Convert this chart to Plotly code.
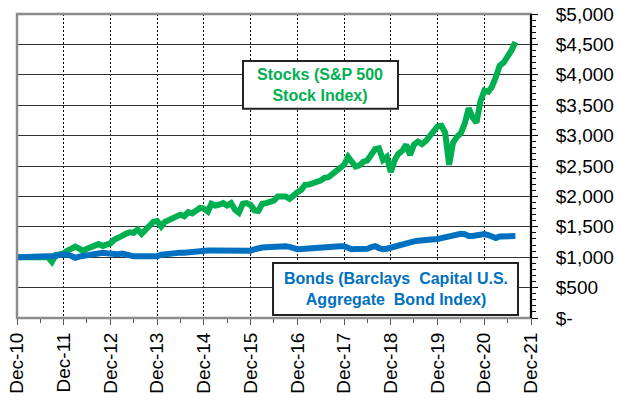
import pandas as pd
import plotly.graph_objects as go

# Monthly values, Dec-2010 .. Aug-2021 (growth of $1,000)
months = pd.date_range("2010-12-31", periods=129, freq="ME")

stocks = [
    1000, 1000, 1000, 1000, 1000, 1000, 1000, 1000, 1000, 926, 1040, 1045,
    1064, 1110, 1150, 1175, 1140, 1100, 1140, 1160, 1195, 1215, 1185, 1195,
    1229, 1290, 1310, 1350, 1385, 1410, 1400, 1455, 1385, 1440, 1520, 1580,
    1595, 1505, 1580, 1610, 1620, 1660, 1700, 1675, 1740, 1720, 1760, 1810,
    1800, 1750, 1880, 1850, 1865, 1890, 1850, 1890, 1780, 1730, 1880, 1890,
    1860, 1770, 1760, 1880, 1890, 1920, 1930, 2000, 2000, 2000, 1960, 2030,
    2070, 2110, 2190, 2195, 2215, 2250, 2260, 2305, 2315, 2365, 2420, 2490,
    2520, 2650, 2560, 2490, 2510, 2570, 2590, 2690, 2780, 2790, 2600, 2650,
    2400, 2600, 2700, 2750, 2850, 2680, 2850, 2900, 2860, 2910, 2980, 3060,
    3150, 3160, 3050, 2520, 2880, 2980, 3040, 3200, 3450, 3300, 3210, 3560,
    3740, 3720, 3800, 3960, 4150, 4200, 4290, 4400, 4540,
]

bonds = [
    1000, 1000, 1000, 1000, 1000, 1000, 1000, 1000, 1000, 1010, 1020, 1040,
    1048, 1040, 1020, 990, 1010, 1025, 1030, 1040, 1048, 1060, 1074, 1065,
    1055, 1045, 1050, 1060, 1055, 1030, 1015, 1015, 1015, 1015, 1015, 1015,
    1015, 1040, 1050, 1050, 1060, 1065, 1075, 1075, 1085, 1090, 1100, 1110,
    1110, 1110, 1110, 1110, 1110, 1110, 1110, 1110, 1110, 1110, 1110, 1110,
    1105, 1130, 1155, 1160, 1165, 1170, 1185, 1185, 1185, 1180, 1170, 1140,
    1130, 1135, 1140, 1150, 1165, 1172, 1172, 1172, 1175, 1178, 1180, 1180,
    1180, 1150, 1130, 1135, 1130, 1135, 1140, 1165, 1180, 1150, 1130, 1140,
    1160, 1180, 1190, 1210, 1225, 1240, 1260, 1270, 1275, 1272, 1275, 1285,
    1300, 1315, 1330, 1335, 1345, 1360, 1385, 1380, 1350, 1350, 1360, 1385,
    1380, 1365, 1345, 1315, 1340, 1348, 1350, 1350, 1350,
]

x_tick_dates = [f"{y}-12-31" for y in range(2010, 2022)]
x_tick_labels = [f"Dec-{y % 100:02d}" for y in range(2010, 2022)]
x_minor_dates = [f"{y}-06-30" for y in range(2011, 2022)]

y_tick_vals = list(range(0, 5001, 500))
y_tick_labels = ["$-"] + [f"${v:,}" for v in y_tick_vals[1:]]

stock_label = "Stocks (S&P 500<br>Stock Index)"
bond_label = "Bonds (Barclays&nbsp; Capital U.S.<br>Aggregate&nbsp; Bond Index)"

GREEN = "#00B050"
BLUE = "#0070C0"
FONT = "Liberation Sans, Arial, sans-serif"

fig = go.Figure()
fig.add_trace(go.Scatter(x=months, y=stocks, mode="lines",
                         line=dict(color=GREEN, width=6), name="Stocks"))
fig.add_trace(go.Scatter(x=months, y=bonds, mode="lines",
                         line=dict(color=BLUE, width=6), name="Bonds"))

fig.update_layout(
    width=618, height=400,
    margin=dict(l=17, r=87, t=14, b=82, autoexpand=False),
    paper_bgcolor="white", plot_bgcolor="white",
    showlegend=False,
    font=dict(family=FONT, size=19, color="black"),
)

fig.update_xaxes(
    type="date",
    automargin=False,
    range=["2010-12-31", "2021-12-31"],
    tickmode="array", tickvals=x_tick_dates, ticktext=x_tick_labels,
    tickangle=-90,
    ticks="outside", ticklen=6, tickcolor="#555555", tickwidth=1,
    showgrid=True, gridcolor="black", gridwidth=1, griddash="2px,2px",
    showline=False, zeroline=False,
    minor=dict(tickvals=x_minor_dates, ticks="outside", ticklen=4,
               tickcolor="#555555", showgrid=False),
    tickfont=dict(family=FONT, size=19, color="black"),
)

fig.update_yaxes(
    side="right",
    automargin=False,
    range=[0, 5000],
    tickmode="array", tickvals=y_tick_vals, ticktext=y_tick_labels,
    ticks="outside", ticklen=6, tickcolor="black", tickwidth=1,
    showgrid=True, gridcolor="#333333", gridwidth=1,
    showline=False, zeroline=False,
    minor=dict(dtick=100, ticks="outside", ticklen=4, tickcolor="black",
               showgrid=False),
    ticklabelstandoff=14,
    tickfont=dict(family=FONT, size=19, color="black"),
)

# plot frame: gray left/top/bottom, black right axis line
fig.add_shape(type="rect", xref="paper", yref="paper", x0=0, x1=1, y0=0, y1=1,
              line=dict(color="#8c8c8c", width=2.5), layer="above")
fig.add_shape(type="line", xref="paper", yref="paper", x0=1, x1=1, y0=0, y1=1,
              line=dict(color="black", width=2), layer="above")

# label boxes
fig.add_shape(type="rect", xref="paper", yref="paper",
              x0=0.4397, x1=0.7412, y0=0.688, y1=0.845,
              line=dict(color="#222222", width=2), fillcolor="white", layer="above")
fig.add_annotation(xref="paper", yref="paper", x=(0.4397 + 0.7412) / 2,
                   y=(0.688 + 0.845) / 2, text=stock_label, showarrow=False,
                   align="center", xanchor="center", yanchor="middle",
                   font=dict(family=FONT, size=16, color=GREEN, weight="bold"))

fig.add_shape(type="rect", xref="paper", yref="paper",
              x0=0.4981, x1=0.9747, y0=0.010, y1=0.181,
              line=dict(color="#222222", width=2), fillcolor="white", layer="above")
fig.add_annotation(xref="paper", yref="paper", x=(0.4981 + 0.9747) / 2,
                   y=(0.010 + 0.181) / 2, text=bond_label, showarrow=False,
                   align="center", xanchor="center", yanchor="middle",
                   font=dict(family=FONT, size=16, color=BLUE, weight="bold"))

fig.write_html(
    "out.html",
    config={"displayModeBar": False},
    post_script="document.body.style.margin='0';document.body.style.padding='0';",
)
